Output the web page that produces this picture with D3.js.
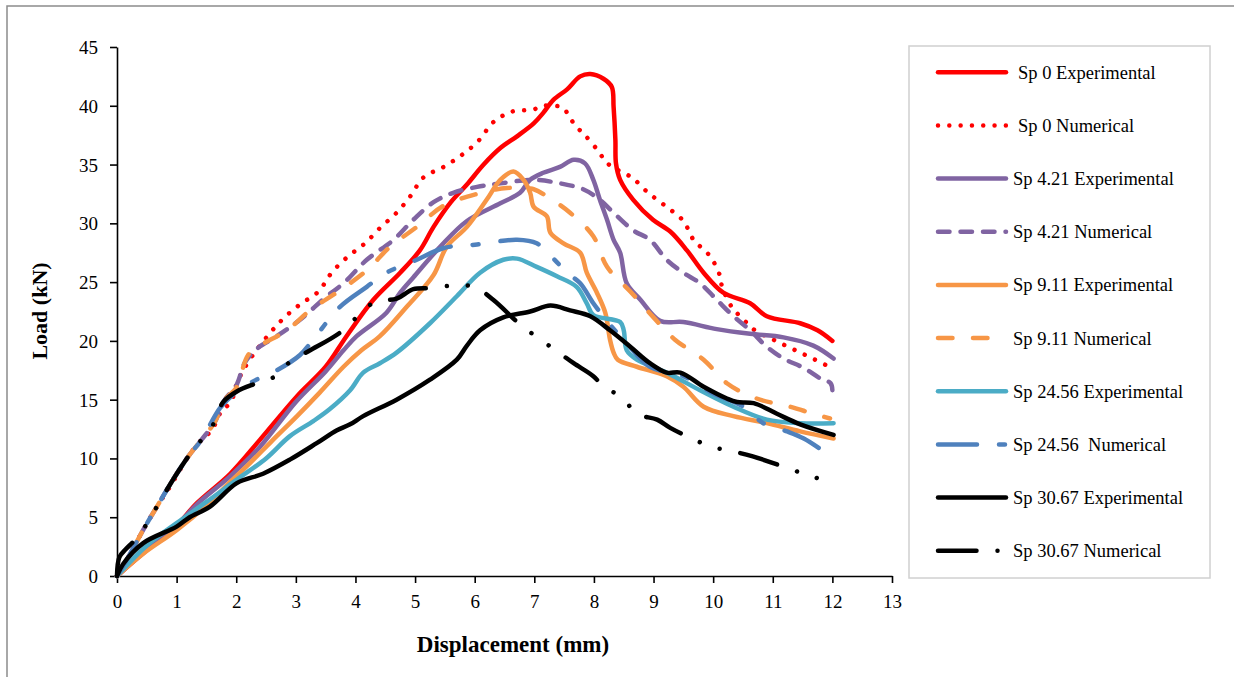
<!DOCTYPE html>
<html>
<head>
<meta charset="utf-8">
<script src="https://cdn.jsdelivr.net/npm/d3@7/dist/d3.min.js"></script>
<style>
  html, body { margin: 0; padding: 0; background: #ffffff; }
  svg { display: block; }
  text { font-family: "Liberation Serif", "Times New Roman", serif; fill: #000; }
</style>
</head>
<body>
<svg id="chart" width="1234" height="677"></svg>
<script>
// Load–displacement curves, [displacement (mm), load (kN)]
const sp0Exp = [[0,0],[0.5,2.2],[1.0,4.3],[1.34,6.2],[1.9,8.7],[2.4,11.6],[3.02,15.3],[3.5,17.8],[3.85,20.4],[4.3,23.5],[4.75,25.8],[5.08,27.7],[5.31,29.7],[5.6,31.8],[5.87,33.3],[6.15,35.0],[6.43,36.4],[6.71,37.4],[6.99,38.5],[7.15,39.4],[7.32,40.5],[7.55,41.4],[7.77,42.5],[7.94,42.7],[8.16,42.3],[8.30,41.6],[8.33,39.9],[8.36,37.1],[8.37,35.1],[8.44,33.7],[8.66,32.0],[8.99,30.3],[9.28,29.3],[9.56,27.7],[9.84,25.8],[10.17,24.1],[10.62,23.2],[10.90,22.1],[11.46,21.5],[11.75,20.9],[12.0,20.0]];
const sp0Num = [[0,0],[0.2,1.7],[0.47,4.2],[0.67,5.9],[0.89,7.6],[1.2,10.2],[1.42,11.6],[1.59,12.4],[1.75,14.0],[1.91,14.8],[2.02,16.5],[2.2,18.2],[2.54,20.5],[2.79,21.9],[3.07,23.1],[3.38,24.2],[3.60,25.8],[3.88,27.2],[4.16,28.3],[4.41,29.6],[4.69,30.9],[4.92,32.3],[5.14,33.9],[5.48,34.8],[5.78,35.8],[6.06,37.0],[6.29,38.5],[6.45,39.1],[6.62,39.5],[6.99,39.7],[7.16,40.0],[7.35,40.0],[7.49,39.8],[7.60,38.95],[7.71,38.2],[7.85,37.5],[8.08,36.1],[8.19,35.3],[8.33,34.7],[8.50,34.3],[8.66,33.8],[8.91,32.6],[9.22,31.4],[9.50,30.2],[9.67,28.6],[9.81,27.9],[9.95,27.2],[10.11,25.6],[10.15,24.6],[10.31,22.9],[10.43,22.2],[10.57,21.5],[10.70,20.9],[11.01,20.1],[11.38,19.2],[11.71,18.4],[11.95,17.8]];
const sp421Exp = [[0,0],[0.5,2.3],[1.0,4.3],[1.34,6.1],[1.9,8.5],[2.4,11.0],[3.0,14.8],[3.5,17.4],[3.80,19.2],[4.02,20.4],[4.52,22.4],[4.75,24.1],[4.97,25.4],[5.42,28.0],[5.87,30.2],[6.43,31.7],[6.76,32.6],[6.93,33.7],[7.15,34.3],[7.43,34.8],[7.66,35.4],[7.85,35.1],[7.99,33.7],[8.10,32.0],[8.22,30.3],[8.33,28.6],[8.44,27.5],[8.55,24.9],[8.78,23.5],[9.11,21.7],[9.50,21.6],[10.06,21.0],[10.62,20.6],[11.18,20.3],[11.68,19.6],[12.02,18.5]];
const sp421Num = [[0,0],[0.2,1.7],[0.47,4.2],[0.67,5.9],[0.94,8.2],[1.2,10.2],[1.42,11.6],[1.64,13.1],[1.81,15.0],[2.0,16.2],[2.15,18.2],[2.34,19.3],[2.68,20.4],[3.07,21.8],[3.52,23.8],[3.80,24.9],[4.19,26.9],[4.64,28.6],[4.97,30.3],[5.31,31.8],[5.64,32.6],[6.04,33.1],[6.43,33.4],[6.99,33.7],[7.43,33.4],[7.82,32.9],[8.10,32.0],[8.33,30.9],[8.66,29.4],[8.94,28.6],[9.22,26.9],[9.50,25.8],[9.78,24.9],[10.06,23.5],[10.34,22.1],[10.62,20.9],[10.90,19.5],[11.18,18.5],[11.52,17.7],[11.80,16.8],[11.97,16.4],[12.0,15.8]];
const sp911Exp = [[0,0],[0.44,1.9],[1.0,3.9],[1.5,6.0],[1.9,8.0],[2.23,9.6],[2.6,11.5],[3.02,13.6],[3.4,15.6],[3.80,17.8],[4.1,19.2],[4.41,20.4],[4.86,22.9],[5.31,25.6],[5.53,28.0],[5.87,29.7],[6.20,32.0],[6.43,33.7],[6.65,34.4],[6.82,33.7],[6.93,32.6],[6.99,31.4],[7.21,30.6],[7.27,29.2],[7.49,28.3],[7.77,27.5],[7.88,25.8],[8.05,24.1],[8.19,22.4],[8.27,20.1],[8.33,19.0],[8.40,18.4],[8.72,17.8],[9.22,17.0],[9.50,16.1],[9.84,14.4],[10.34,13.6],[10.90,13.0],[11.46,12.3],[12.02,11.7]];
const sp911Num = [[0,0],[0.2,1.7],[0.47,4.2],[0.67,5.9],[0.94,8.2],[1.2,10.2],[1.42,11.6],[1.64,13.1],[1.81,15.0],[2.0,16.0],[2.2,18.8],[2.4,19.6],[2.85,20.9],[3.24,22.6],[3.74,24.3],[4.19,26.0],[4.58,28.0],[5.03,29.7],[5.48,31.5],[6.04,32.5],[6.54,33.0],[6.99,32.9],[7.21,32.3],[7.60,30.9],[7.99,28.9],[8.22,26.3],[8.61,24.2],[9.00,22.0],[9.36,20.1],[9.84,18.4],[10.23,16.4],[10.73,15.1],[11.29,14.4],[11.68,13.8],[11.96,13.4]];
const sp2456Exp = [[0,0],[0.5,2.6],[1.0,4.5],[1.5,6.3],[2.01,8.2],[2.5,10.0],[2.90,11.9],[3.3,13.2],[3.57,14.2],[3.91,15.8],[4.13,17.3],[4.41,18.1],[4.69,19.0],[5.25,21.5],[5.70,23.8],[6.09,25.8],[6.48,26.9],[6.71,27.0],[7.04,26.3],[7.38,25.5],[7.71,24.6],[7.88,23.2],[7.99,22.2],[8.44,21.6],[8.50,20.9],[8.55,19.2],[8.72,18.4],[9.22,17.3],[9.78,15.8],[10.34,14.4],[10.90,13.3],[11.46,13.0],[12.02,13.0]];
const sp2456Num = [[0,0],[0.2,1.7],[0.47,4.2],[0.67,5.9],[0.94,8.2],[1.2,10.2],[1.42,11.6],[1.73,14.3],[2.01,15.7],[2.3,16.6],[2.68,17.5],[3.07,18.8],[3.35,20.5],[3.74,22.9],[4.19,24.6],[4.52,25.8],[5.03,26.9],[5.48,27.9],[6.04,28.2],[6.71,28.6],[7.04,28.3],[7.32,27.0],[7.55,25.8],[7.77,24.9],[7.99,23.2],[8.25,21.5],[8.6,19.5],[8.94,17.8],[9.50,17.0],[10.01,15.5],[10.51,14.4],[10.84,13.0],[11.24,12.3],[11.52,11.7],[11.77,10.9]];
const sp3067Exp = [[0,0],[0.1,1.0],[0.44,2.8],[1.0,4.2],[1.22,5.0],[1.56,5.9],[2.01,7.9],[2.45,8.7],[2.90,9.9],[3.35,11.3],[3.69,12.4],[3.91,12.9],[4.13,13.6],[4.69,15.0],[5.25,16.7],[5.70,18.4],[5.87,19.6],[6.09,20.9],[6.48,22.0],[6.93,22.5],[7.27,23.0],[7.60,22.6],[7.94,22.1],[8.27,20.9],[8.61,19.5],[8.94,18.1],[9.22,17.3],[9.45,17.3],[9.84,16.1],[10.23,15.1],[10.40,14.8],[10.68,14.7],[11.07,13.8],[11.46,12.9],[12.02,12.0]];
const sp3067Num = [[0,0],[0.04,1.6],[0.15,2.3],[0.27,2.9],[0.47,4.2],[0.67,5.9],[0.94,8.2],[1.2,10.2],[1.42,11.6],[1.64,13.1],[1.78,14.8],[2.01,15.7],[2.34,16.4],[2.66,17.0],[2.92,18.3],[3.24,19.2],[3.74,20.7],[4.04,22.1],[4.32,23.3],[4.69,23.6],[4.97,24.4],[5.25,24.5],[5.64,24.7],[5.99,24.6],[6.31,23.5],[6.76,21.4],[7.05,20.3],[7.36,19.2],[7.66,18.1],[7.99,17.0],[8.16,16.1],[8.47,15.2],[8.72,13.8],[9.06,13.3],[9.28,12.6],[9.64,11.7],[9.97,11.0],[10.33,10.6],[10.65,10.2],[11.29,9.1],[11.63,8.5],[11.98,8.0]];

const seriesNames = ["Sp 0 Experimental","Sp 0 Numerical","Sp 4.21 Experimental","Sp 4.21 Numerical","Sp 9.11 Experimental","Sp 9.11 Numerical","Sp 24.56 Experimental","Sp 24.56  Numerical","Sp 30.67 Experimental","Sp 30.67 Numerical"];
const seriesData = [sp0Exp, sp0Num, sp421Exp, sp421Num, sp911Exp, sp911Num, sp2456Exp, sp2456Num, sp3067Exp, sp3067Num];
const seriesColors = ["#FF0000","#FF0000","#8064A2","#8064A2","#F79646","#F79646","#4BACC6","#4F81BD","#000000","#000000"];
const seriesDashes = [null,"0.01 11.3",null,"11.5 11",null,"14.5 20.5",null,"39 22 6 22",null,"38.5 21 0.01 21 0.01 21"];

const xTicks = d3.range(0, 14, 1);
const yTicks = d3.range(0, 50, 5);
const xTitle = "Displacement (mm)";
const yTitle = "Load (kN)";

const svg = d3.select("#chart");
const x = d3.scaleLinear().domain([0, 13]).range([117, 892]);
const y = d3.scaleLinear().domain([0, 45]).range([576, 47]);

// outer chart frame
svg.append("rect")
  .attr("x", 7).attr("y", 6).attr("width", 1240).attr("height", 690)
  .attr("fill", "none").attr("stroke", "#8c8c8c").attr("stroke-width", 1.5);

// axes
const xAxis = svg.append("g").attr("transform", `translate(0,${y(0)})`)
  .call(d3.axisBottom(x).tickValues(xTicks).tickSize(7).tickSizeOuter(0).tickFormat(d3.format("d")));
const yAxis = svg.append("g").attr("transform", `translate(${x(0)},0)`)
  .call(d3.axisLeft(y).tickValues(yTicks).tickSize(7).tickSizeOuter(0).tickFormat(d3.format("d")));

[xAxis, yAxis].forEach(g => {
  g.select(".domain").attr("stroke", "#000").attr("stroke-width", 1.6);
  g.selectAll(".tick line").attr("stroke", "#000").attr("stroke-width", 1.6);
  g.selectAll(".tick text")
    .style("font-family", '"Liberation Serif", "Times New Roman", serif')
    .style("font-size", "19px").attr("fill", "#000");
});
xAxis.selectAll(".tick text").attr("y", 32).attr("dy", 0);
yAxis.selectAll(".tick text").attr("x", -19).attr("dy", "0.34em");

// axis titles
svg.append("text")
  .attr("x", 513).attr("y", 652)
  .attr("text-anchor", "middle")
  .style("font-size", "23px").style("font-weight", "bold")
  .text(xTitle);
svg.append("text")
  .attr("transform", "translate(47,311) rotate(-90)")
  .attr("text-anchor", "middle")
  .style("font-size", "22px").style("font-weight", "bold")
  .text(yTitle);

// curves
const line = d3.line()
  .x(d => x(d[0])).y(d => y(d[1]))
  .curve(d3.curveCatmullRom.alpha(0.5));

const plot = svg.append("g");
seriesData.forEach((data, i) => {
  plot.append("path")
    .datum(data)
    .attr("d", line)
    .attr("fill", "none")
    .attr("stroke", seriesColors[i])
    .attr("stroke-width", 4.5)
    .attr("stroke-linecap", "round")
    .attr("stroke-linejoin", "round")
    .attr("stroke-dasharray", seriesDashes[i]);
});

// legend
const legend = svg.append("g");
legend.append("rect")
  .attr("x", 909).attr("y", 46).attr("width", 301).attr("height", 532)
  .attr("fill", "#fff").attr("stroke", "#d0d0d0").attr("stroke-width", 1.5);

const rowY = d3.scaleLinear().domain([0, 9]).range([72.3, 550.7]);
const textX = [1018, 1018, 1013, 1013, 1013, 1013, 1013, 1013, 1013, 1013];
seriesNames.forEach((name, i) => {
  const yy = rowY(i);
  legend.append("line")
    .attr("x1", 938).attr("x2", 1006).attr("y1", yy).attr("y2", yy)
    .attr("stroke", seriesColors[i]).attr("stroke-width", 4.5)
    .attr("stroke-linecap", "round")
    .attr("stroke-dasharray", seriesDashes[i]);
  legend.append("text")
    .attr("x", textX[i]).attr("y", yy + 6.5)
    .attr("xml:space", "preserve")
    .style("white-space", "pre")
    .style("font-size", "18.5px")
    .text(name);
});
</script>
</body>
</html>
